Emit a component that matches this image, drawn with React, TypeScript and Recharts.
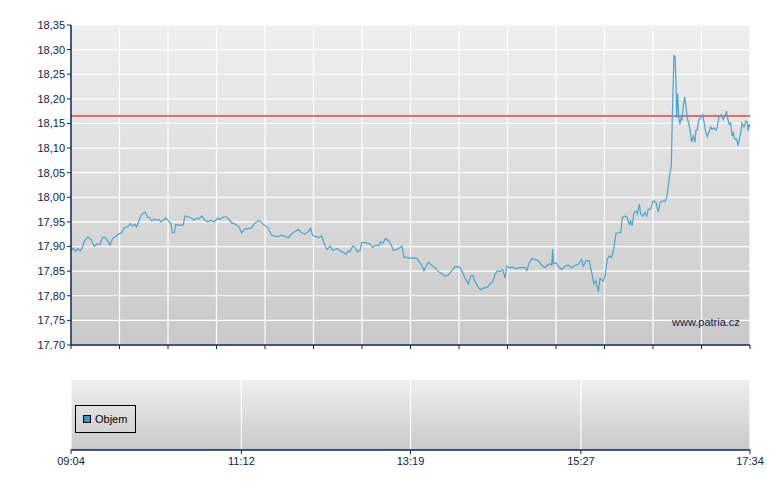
import React from "react";
import {
  LineChart,
  Line,
  ComposedChart,
  Bar,
  XAxis,
  YAxis,
  CartesianGrid,
  ReferenceLine,
  Legend,
} from "recharts";

// minutes after 09:04 and last price (CZK)
const minutes = [
  0, 1.7, 3.5, 5, 6.8, 8.5, 10, 12.5, 15, 17.5, 19.3, 21.8, 23.5, 25.5, 27.6, 29.3, 31, 33.6, 36.1, 38.1,
  40, 42.6, 44.3, 46, 48.1, 49.3, 50.5, 52.6, 55.6, 57.6, 59.3, 60.6, 62.6, 64.4, 66.1, 67.6, 69.3, 71.1,
  73.1, 75.1, 76.1, 77.6, 78.6, 81.1, 84.3, 85.6, 88.1, 90.7, 92.6, 94.4, 96.1, 98.2, 100.1, 102.7, 105.2,
  107.6, 110.2, 111.9, 114.4, 116.9, 118.7, 120.7, 123.7, 126.2, 128.2, 130.2,
  133.2, 135.7, 137.5, 140.7, 142.5, 144, 145.7, 148.2, 150.7, 153.2, 155.7, 158.3, 160.7, 163.2, 165.8,
  168.2, 170.7, 173.3, 175.8, 178.2, 180, 181.5, 184, 186.5, 188.3, 190.8, 192.5, 194.5, 196.6, 199.6, 202,
  204.5, 206.6, 208.3, 209.6, 211.6, 213.3, 215, 217.1, 218.3, 220.8, 224.1, 226.6, 229.1, 230.8, 232.6,
  234.1, 236.1, 238.3, 240.1, 242.1, 244.6, 247.1, 248.6, 250.1, 252.6,
  254.6, 257.1, 259.7, 262.1, 263.4, 265.1, 266.6, 268.4, 270.9, 273.4, 275.9, 278.4, 280.9, 283.4, 285.9,
  288.4, 290.9, 292.2, 294.2, 295.9, 298.4, 300.2, 301.7, 303.4, 305.9, 307.7, 310.2, 312.7, 314.7, 316.7,
  318.5, 320.2, 322.2, 324.3, 326, 327.3, 329.2, 331.8, 334.2, 337.2, 341, 342.3, 344.2, 346, 348.5, 351,
  353.5, 356, 357.8, 359.8, 361.1, 361.8, 362.3, 364.3, 366, 368.6, 371, 373.5, 376.1, 378.6, 381, 383.6,
  384.8, 386.8, 389.3,
  391.1, 392.8, 394.3, 396.1, 397.3, 399.8, 401.1, 402.8, 404.3, 406.1, 407.8, 409.3, 411.1, 412.9, 414.1,
  416.1, 417.8, 419.3, 420.4, 421.4, 422.9, 424.4, 425.4, 426.9, 427.9, 429.4, 431.1, 432.4, 433.6, 435.4,
  437.4, 439.4, 441.1, 442.4, 444.4, 446.2, 447.4, 448.6, 449.9, 450.9, 451.6, 452.4, 452.9, 453.7, 454.4,
  454.9, 455.7, 456.4, 457.4, 458.2, 458.9, 459.9, 460.9, 461.9, 462.9, 463.9, 464.9, 466.2, 467.4, 468.7,
  469.4, 470.4, 471.5, 473, 474.5, 475.4, 476.9, 477.9, 479, 480.5, 481.5, 483, 484.5, 485.4, 486.9, 488.4,
  489.9, 491.2, 492.4, 493.4, 494.4, 495.5, 496.5, 497.5, 498.5, 500, 501, 502.5, 503, 504, 505.5, 507, 508,
  508.5, 509.5, 510,
];

const prices = [
  17.891, 17.897, 17.89, 17.896, 17.891, 17.897, 17.911, 17.919, 17.915, 17.9, 17.905, 17.905, 17.918,
  17.919, 17.911, 17.903, 17.915, 17.921, 17.926, 17.928, 17.938, 17.94, 17.946, 17.942, 17.945, 17.94,
  17.948, 17.964, 17.97, 17.96, 17.958, 17.952, 17.956, 17.953, 17.955, 17.95, 17.953, 17.958, 17.952,
  17.946, 17.928, 17.928, 17.945, 17.943, 17.944, 17.962, 17.96, 17.958, 17.953, 17.958, 17.956, 17.962,
  17.955, 17.95, 17.953, 17.95, 17.958, 17.955, 17.96, 17.96, 17.955, 17.948, 17.945, 17.94, 17.928, 17.935,
  17.937, 17.938, 17.946, 17.953, 17.951, 17.946, 17.943, 17.937, 17.923, 17.921, 17.92, 17.923, 17.921,
  17.918, 17.926, 17.93, 17.935, 17.928, 17.926, 17.93, 17.937, 17.923, 17.92, 17.918, 17.922, 17.901,
  17.894, 17.901, 17.892, 17.896, 17.892, 17.888, 17.884, 17.891, 17.89, 17.901, 17.898, 17.89, 17.892,
  17.908, 17.908, 17.906, 17.898, 17.903, 17.901, 17.91, 17.906, 17.916, 17.912, 17.906, 17.892, 17.894,
  17.898, 17.901, 17.878, 17.878,
  17.876, 17.877, 17.876, 17.867, 17.862, 17.851, 17.86, 17.868, 17.862, 17.857, 17.849, 17.845, 17.84,
  17.842, 17.851, 17.859, 17.859, 17.857, 17.847, 17.836, 17.824, 17.84, 17.842, 17.829, 17.817, 17.812,
  17.816, 17.817, 17.824, 17.828, 17.843, 17.851, 17.849, 17.853, 17.836, 17.86, 17.857, 17.858, 17.855,
  17.857, 17.857, 17.851, 17.867, 17.876, 17.874, 17.871, 17.862, 17.857, 17.862, 17.865, 17.862, 17.895,
  17.865, 17.867, 17.86, 17.853, 17.86, 17.862, 17.857, 17.862, 17.864, 17.874, 17.86, 17.871, 17.871,
  17.847, 17.824, 17.831, 17.808, 17.835, 17.83, 17.841, 17.874, 17.881, 17.878, 17.898, 17.927, 17.928,
  17.928, 17.959, 17.962, 17.959, 17.945, 17.952, 17.942, 17.969, 17.972, 17.966, 17.986, 17.966, 17.962,
  17.969, 17.962, 17.976, 17.976, 17.993, 17.989, 17.97, 17.989, 17.993, 17.991, 17.999, 18.023, 18.05,
  18.064, 18.158, 18.239, 18.288, 18.286, 18.239, 18.161, 18.211, 18.165, 18.148, 18.161, 18.158, 18.185,
  18.204, 18.185, 18.161, 18.151, 18.138, 18.112, 18.124, 18.112, 18.136, 18.138, 18.158, 18.161, 18.168,
  18.153, 18.131, 18.123, 18.131, 18.143, 18.138, 18.141, 18.136, 18.143, 18.165, 18.168, 18.158, 18.165,
  18.175, 18.158, 18.148, 18.151, 18.124, 18.131, 18.118, 18.118, 18.105, 18.124, 18.131, 18.151, 18.143,
  18.155, 18.153, 18.135, 18.148, 18.143,
];

const prevClose = 18.165;

const priceTicks = [17.7, 17.75, 17.8, 17.85, 17.9, 17.95, 18.0, 18.05, 18.1, 18.15, 18.2, 18.25, 18.3, 18.35];
const priceTickLabels = ["17.70", "17,75", "17,80", "17,85", "17,90", "17,95", "18,00", "18,05", "18,10", "18,15", "18,20", "18,25", "18,30", "18,35"];

const timeLabels = ["09:04", "11:12", "13:19", "15:27", "17:34"];

// no volume was traded in the picture
const volumes: (number | null)[] = [null, null, null, null, null];

const NAVY = "#0c2450";
const FONT = "'Liberation Sans', Arial, sans-serif";
const SESSION = 510;

const toMin = (t: string) => {
  const [h, m] = t.split(":").map(Number);
  return h * 60 + m - (9 * 60 + 4);
};

const priceData = minutes.map((m, i) => ({ t: m, price: prices[i] }));
const timeTicks = timeLabels.map(toMin);
const volumeData = timeTicks.map((t, i) => ({ t, objem: volumes[i] }));
const minorTicks = Array.from({ length: 15 }, (_, i) => (i * SESSION) / 14);

const ObjemLegend = ({ payload }: any) => (
  <div
    style={{
      border: "1px solid #000",
      width: 61,
      height: 28,
      display: "flex",
      alignItems: "center",
      paddingLeft: 7,
      boxSizing: "border-box",
      fontFamily: FONT,
      fontSize: 11,
      color: "#000",
    }}
  >
    {(payload || []).map((p: any) => (
      <span key={p.value} style={{ display: "flex", alignItems: "center" }}>
        <span
          style={{
            display: "inline-block",
            width: 6,
            height: 6,
            background: p.color,
            border: "1px solid #000",
            marginRight: 4,
          }}
        />
        {p.value}
      </span>
    ))}
  </div>
);

const App = () => {
  return (
    <div style={{ position: "absolute", left: 0, top: 0, width: 780, height: 490, background: "#fff", fontFamily: FONT }}>
      <div style={{ position: "absolute", left: 0, top: 0 }}>
        <LineChart width={780} height={360} data={priceData} margin={{ top: 25, right: 30, left: 0, bottom: 0 }}>
          <defs>
            <linearGradient id="bgTop" x1="0" y1="0" x2="0" y2="1">
              <stop offset="0%" stopColor="#efefef" />
              <stop offset="100%" stopColor="#c9c9c9" />
            </linearGradient>
          </defs>
          <CartesianGrid stroke="#ffffff" strokeWidth={1.2} fill="url(#bgTop)" fillOpacity={1} />
          <XAxis
            dataKey="t"
            type="number"
            domain={[0, SESSION]}
            ticks={minorTicks}
            interval={0}
            tickFormatter={() => ""}
            tickSize={4}
            height={15}
            axisLine={{ stroke: NAVY, strokeWidth: 1.5 }}
            tickLine={{ stroke: NAVY }}
          />
          <YAxis
            domain={[17.7, 18.35]}
            ticks={priceTicks}
            interval={0}
            width={71}
            tickSize={4}
            tickMargin={2}
            tickFormatter={(v: number) => priceTickLabels[priceTicks.findIndex((p) => Math.abs(p - v) < 1e-6)]}
            tick={{ fontSize: 11, fill: NAVY, fontFamily: FONT }}
            axisLine={{ stroke: NAVY, strokeWidth: 1.5 }}
            tickLine={{ stroke: NAVY }}
          />
          <ReferenceLine y={prevClose} stroke="#de5a5a" strokeWidth={2} strokeOpacity={0.85} />
          <Line
            type="linear"
            dataKey="price"
            stroke="#4aa5d0"
            strokeWidth={1.2}
            dot={false}
            isAnimationActive={false}
          />
        </LineChart>
      </div>
      <div style={{ position: "absolute", left: 672, top: 316, fontSize: 11, color: NAVY, fontFamily: FONT }}>
        www.patria.cz
      </div>
      <div style={{ position: "absolute", left: 0, top: 370 }}>
        <ComposedChart width={780} height={110} data={volumeData} margin={{ top: 10, right: 30, left: 71, bottom: 10 }}>
          <defs>
            <linearGradient id="bgBottom" x1="0" y1="0" x2="0" y2="1">
              <stop offset="0%" stopColor="#efefef" />
              <stop offset="100%" stopColor="#c9c9c9" />
            </linearGradient>
          </defs>
          <CartesianGrid stroke="#ffffff" strokeWidth={1.2} horizontal={false} fill="url(#bgBottom)" fillOpacity={1} />
          <XAxis
            dataKey="t"
            type="number"
            domain={[0, SESSION]}
            ticks={timeTicks}
            interval={0}
            height={20}
            tickSize={4}
            tickMargin={3}
            tickFormatter={(v: number, i: number) => timeLabels[i]}
            tick={{ fontSize: 11, fill: NAVY, fontFamily: FONT }}
            axisLine={{ stroke: NAVY, strokeWidth: 1.5 }}
            tickLine={{ stroke: NAVY }}
          />
          <YAxis hide domain={[0, 1]} />
          <Bar dataKey="objem" name="Objem" fill="#3399cc" isAnimationActive={false} />
          <Legend
            layout="horizontal"
            verticalAlign="middle"
            align="center"
            content={<ObjemLegend />}
            wrapperStyle={{ left: 75, top: 35, width: "auto" }}
          />
        </ComposedChart>
      </div>
    </div>
  );
};

export default App;
